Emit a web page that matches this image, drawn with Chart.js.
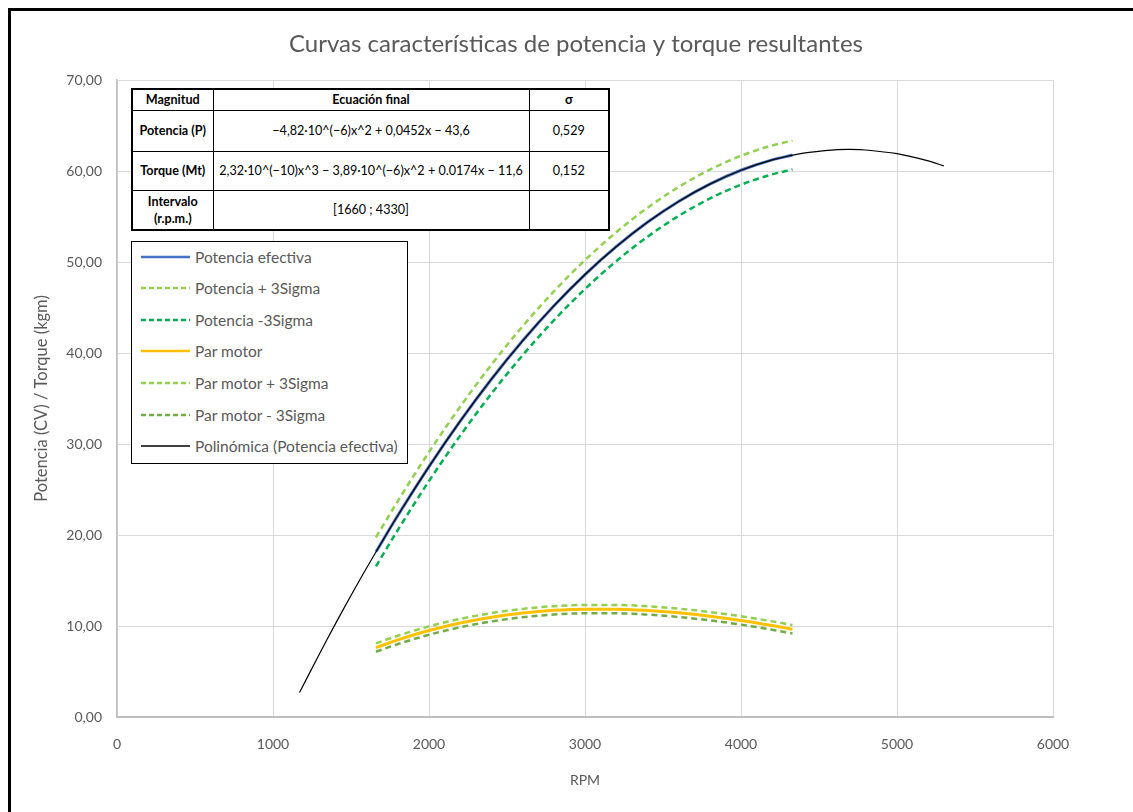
<!DOCTYPE html>
<html lang="es">
<head>
<meta charset="utf-8">
<title>Curvas características de potencia y torque resultantes</title>
<script src="https://cdn.jsdelivr.net/npm/chart.js@4/dist/chart.umd.min.js"></script>
<style>
  html, body { margin: 0; padding: 0; background: #fff; }
  #wrap { position: relative; width: 1133px; height: 812px; overflow: hidden; background: #fff; }
  #chart { position: absolute; left: 0; top: 0; }
  #frame { position: absolute; left: 8px; top: 8px; width: 1125px; height: 804px;
           border-top: 3px solid #000; border-left: 3px solid #000; box-sizing: border-box; pointer-events: none; }
  #eqTable { position: absolute; left: 131px; top: 88px; width: 479px; height: 143px;
             border-collapse: collapse; border: 2px solid #000; background: #fff; table-layout: fixed;
             font-family: Lato, "Liberation Sans", sans-serif; font-size: 12.6px; color: #000; }
  #eqTable td, #eqTable th { border: 1px solid #000; text-align: center; padding: 0 1px; white-space: nowrap; line-height: 1.35; }
  #eqTable th { font-weight: bold; }
  #eqTable td.h { font-weight: bold; }
  #legend { position: absolute; left: 131px; top: 241px; width: 277px; height: 223px;
            border: 1px solid #000; box-sizing: border-box; background: #fff;
            font-family: Lato, "Liberation Sans", sans-serif; font-size: 15.5px; color: #595959; }
  #legend .item { position: absolute; left: 9px; height: 20px; display: flex; align-items: center; white-space: nowrap; }
  #legend svg { margin-right: 5px; }
</style>
</head>
<body>
<div id="wrap">
  <canvas id="chart" width="1133" height="812"></canvas>
  <table id="eqTable">
    <colgroup><col style="width:81px"><col><col style="width:80px"></colgroup>
    <tr style="height:21px"><th>Magnitud</th><th>Ecuación final</th><th>σ</th></tr>
    <tr style="height:41px"><td class="h">Potencia (P)</td><td>−4,82·10^(−6)x^2 + 0,0452x − 43,6</td><td>0,529</td></tr>
    <tr style="height:39px"><td class="h">Torque (Mt)</td><td>2,32·10^(−10)x^3 − 3,89·10^(−6)x^2 + 0.0174x − 11,6</td><td>0,152</td></tr>
    <tr style="height:40px"><td class="h">Intervalo<br>(r.p.m.)</td><td>[1660 ; 4330]</td><td></td></tr>
  </table>
  <div id="legend"></div>
  <div id="frame"></div>
</div>
<script>
// Régimen de giro (rpm) en el intervalo medido
const rpm = [1660, 1800, 2000, 2200, 2400, 2600, 2800, 3000, 3200, 3400, 3600, 3800, 4000, 4200, 4330];

// Potencia efectiva (CV) y bandas ±3σ
const potencia      = [18.15, 22.14, 27.52, 32.51, 37.12, 41.34, 45.17, 48.62, 51.68, 54.36, 56.65, 58.56, 60.08, 61.22, 61.75];
const potenciaMas   = [19.74, 23.73, 29.11, 34.10, 38.71, 42.93, 46.76, 50.21, 53.27, 55.95, 58.24, 60.15, 61.67, 62.81, 63.34];
const potenciaMenos = [16.56, 20.55, 25.93, 30.92, 35.53, 39.75, 43.58, 47.03, 50.09, 52.77, 55.06, 56.97, 58.49, 59.63, 60.16];

// Par motor (kgm) y bandas ±3σ
const par      = [7.63, 8.47, 9.50, 10.32, 10.96, 11.42, 11.72, 11.85, 11.85, 11.71, 11.45, 11.08, 10.61, 10.05, 9.64];
const parMas   = [8.09, 8.93, 9.96, 10.78, 11.42, 11.88, 12.18, 12.31, 12.31, 12.17, 11.91, 11.54, 11.07, 10.51, 10.10];
const parMenos = [7.17, 8.01, 9.04, 9.86, 10.50, 10.96, 11.26, 11.39, 11.39, 11.25, 10.99, 10.62, 10.15, 9.59, 9.18];

// Línea de tendencia polinómica (prolongada fuera del intervalo)
const rpmTendencia = [1170, 1300, 1400, 1500, 1600, 1800, 2000, 2200, 2400, 2600, 2800, 3000, 3200, 3400, 3600, 3800, 4000, 4200, 4400, 4600, 4700, 4800, 5000, 5200, 5300];
const tendencia    = [2.69, 7.01, 10.23, 13.36, 16.38, 22.14, 27.52, 32.51, 37.12, 41.34, 45.17, 48.62, 51.68, 54.36, 56.65, 58.56, 60.08, 61.22, 61.97, 62.33, 62.37, 62.31, 61.90, 61.11, 60.57];

// Rótulos de los ejes
const xTicks = [0, 1000, 2000, 3000, 4000, 5000, 6000];
const yTicks = [0, 10, 20, 30, 40, 50, 60, 70];

const pts = (xs, ys) => xs.map((x, i) => ({ x: x, y: ys[i] }));
const FONT = 'Lato, "Liberation Sans", sans-serif';
const GREY_TEXT = '#595959';

const mk = (label, xs, ys, color, width, dash, order) => ({
  label: label,
  data: pts(xs, ys),
  borderColor: color,
  backgroundColor: color,
  borderWidth: width,
  borderDash: dash,
  pointRadius: 0,
  showLine: true,
  fill: false,
  cubicInterpolationMode: 'monotone',
  order: order
});

const datasets = [
  mk('Potencia efectiva', rpm, potencia, '#4472C4', 3, [], 2),
  mk('Potencia + 3Sigma', rpm, potenciaMas, '#92D050', 2.5, [6, 4], 3),
  mk('Potencia -3Sigma', rpm, potenciaMenos, '#00B050', 2.5, [6, 4], 3),
  mk('Par motor', rpm, par, '#FFC000', 3, [], 2),
  mk('Par motor + 3Sigma', rpm, parMas, '#92D050', 2.5, [6, 4], 3),
  mk('Par motor - 3Sigma', rpm, parMenos, '#70AD47', 2.5, [6, 4], 3),
  mk('Polinómica (Potencia efectiva)', rpmTendencia, tendencia, '#000000', 1.2, [], 0)
];
datasets[6].cubicInterpolationMode = 'default';
datasets[6].tension = 0.3;

const chart = new Chart(document.getElementById('chart'), {
  type: 'scatter',
  data: { datasets: datasets },
  options: {
    responsive: false,
    animation: false,
    events: [],
    layout: { padding: { left: 19, top: 0, right: 0, bottom: 0 } },
    plugins: {
      legend: { display: false },
      tooltip: { enabled: false },
      title: {
        display: true,
        text: 'Curvas características de potencia y torque resultantes',
        color: GREY_TEXT,
        font: { family: FONT, size: 24, weight: 'normal' },
        padding: { top: 29.6, bottom: 21.6 }
      }
    },
    scales: {
      x: {
        type: 'linear',
        min: 0, max: 6000,
        afterBuildTicks: s => { s.ticks = xTicks.map(v => ({ value: v })); },
        afterFit: s => { s.height = 95; },
        ticks: {
          color: GREY_TEXT,
          font: { family: FONT, size: 14 },
          padding: 19,
          maxRotation: 0,
          callback: v => String(v)
        },
        grid: { color: '#D9D9D9', lineWidth: 1, drawTicks: false },
        border: { display: true, color: '#BFBFBF', width: 2 },
        title: {
          display: true, text: 'RPM', color: GREY_TEXT,
          font: { family: FONT, size: 14 },
          padding: { top: 0, bottom: 23.6 }
        }
      },
      y: {
        type: 'linear',
        min: 0, max: 70,
        afterBuildTicks: s => { s.ticks = yTicks.map(v => ({ value: v })); },
        afterFit: s => { s.width = 98; },
        ticks: {
          color: GREY_TEXT,
          font: { family: FONT, size: 14 },
          padding: 15,
          callback: v => v.toFixed(2).replace('.', ',')
        },
        grid: { color: '#D9D9D9', lineWidth: 1, drawTicks: false },
        border: { display: true, color: '#BFBFBF', width: 1.5 },
        title: {
          display: true, text: 'Potencia (CV) / Torque (kgm)', color: GREY_TEXT,
          font: { family: FONT, size: 16.5 },
          padding: { top: 13, bottom: 0 }
        }
      },
      // margen derecho del área de trazado (sin rótulos)
      margen: {
        type: 'linear',
        position: 'right',
        display: true,
        min: 0, max: 70,
        afterFit: s => { s.width = 80; },
        ticks: { display: false },
        grid: { display: false, drawTicks: false },
        border: { display: false }
      }
    }
  }
});

// Leyenda dibujada a partir de las series del gráfico
(function buildLegend() {
  const box = document.getElementById('legend');
  chart.data.datasets.forEach((ds, i) => {
    const item = document.createElement('div');
    item.className = 'item';
    item.style.top = (4.5 + i * 31.6) + 'px';
    const ns = 'http://www.w3.org/2000/svg';
    const svg = document.createElementNS(ns, 'svg');
    svg.setAttribute('width', '49');
    svg.setAttribute('height', '8');
    const ln = document.createElementNS(ns, 'line');
    ln.setAttribute('x1', '0'); ln.setAttribute('x2', '49');
    ln.setAttribute('y1', '4'); ln.setAttribute('y2', '4');
    ln.setAttribute('stroke', ds.borderColor);
    ln.setAttribute('stroke-width', ds.order === 0 ? 1.5 : 2.5);
    if (ds.borderDash && ds.borderDash.length) ln.setAttribute('stroke-dasharray', '5 3');
    svg.appendChild(ln);
    const txt = document.createElement('span');
    txt.textContent = ds.label;
    item.appendChild(svg);
    item.appendChild(txt);
    box.appendChild(item);
  });
})();
</script>
</body>
</html>
